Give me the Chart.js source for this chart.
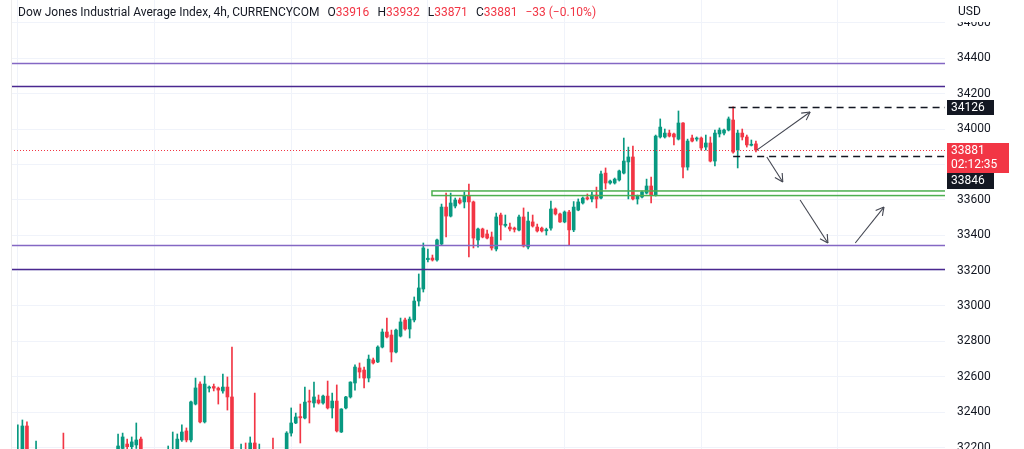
<!DOCTYPE html>
<html>
<head>
<meta charset="utf-8">
<script src="https://cdn.jsdelivr.net/npm/chart.js@4.4.1/dist/chart.umd.min.js"></script>
<style>
  html, body { margin: 0; padding: 0; background: #fff; overflow: hidden; width: 1024px; height: 449px; }
  #wrap { position: absolute; left: 0; top: -20px; width: 1024px; height: 489px; }
  #legend { position: absolute; left: 18px; top: 5px; font: 12px Roboto, sans-serif; color: #131722; white-space: nowrap; }
  #legend span.v { color: #f23645; }
  #legend span.k { margin-left: 8px; }
</style>
</head>
<body>
<div id="wrap"><canvas id="chart" width="1024" height="489"></canvas></div>
<div id="legend"></div>
<script>
// 4h candles, one per slot (slot 0 = first bar at the left edge)
const opens = [
  32050, 32090, 32160, 32322, 32140, 32070, 32160, 32080, 32010, 32060,
  32040, 32120, 32090, 31980, 32020, 31930, 31860, 31920, 32000, 31970,
  32050, 32100, 32070, 32140, 32195, 32220, 32205, 32215, 32248, 32140,
  32070, 32110, 32050, 32130, 32160, 32150, 32185, 32243, 32294, 32243,
  32446, 32559, 32345, 32536, 32545, 32536, 32520, 32542, 32486, 32100,
  32150, 32180, 32120, 32226, 32150, 32180, 32100, 32150, 32110, 32160,
  32165, 32282, 32339, 32375, 32367, 32463, 32452, 32469, 32452, 32491,
  32424, 32463, 32288, 32424, 32486, 32565, 32650, 32638, 32593, 32695,
  32684, 32768, 32853, 32836, 32740, 32830, 32921, 32870, 32921, 33028,
  33096, 33262, 33271, 33260, 33350, 33559, 33508, 33565, 33599, 33588,
  33621, 33588, 33373, 33435, 33407, 33390, 33322, 33514, 33455, 33446,
  33440, 33429, 33503, 33333, 33475, 33446, 33440, 33425, 33440, 33548,
  33520, 33475, 33531, 33430, 33542, 33582, 33612, 33605, 33627, 33610,
  33751, 33695, 33695, 33712, 33751, 33814, 33842, 33605, 33616, 33638,
  33678, 33627, 33955, 33955, 33977, 33972, 33943, 34034, 33785, 33949,
  33943, 33949, 33898, 33921, 33819, 33972, 33977, 33994, 34051, 33881,
  33977, 33955, 33908, 33916
];
const highs = [
  32120, 32328, 32356, 32345, 32170, 32237, 32180, 32110, 32090, 32140,
  32150, 32282, 32130, 32050, 32060, 31980, 31950, 32030, 32050, 32080,
  32130, 32150, 32160, 32277, 32282, 32248, 32260, 32339, 32260, 32170,
  32140, 32150, 32160, 32185, 32209, 32288, 32277, 32328, 32311, 32463,
  32593, 32571, 32604, 32548, 32559, 32542, 32616, 32599, 32768, 32180,
  32220, 32226, 32260, 32508, 32220, 32188, 32170, 32254, 32180, 32188,
  32290, 32424, 32395, 32446, 32542, 32525, 32570, 32497, 32497, 32576,
  32508, 32554, 32420, 32490, 32572, 32667, 32678, 32655, 32723, 32706,
  32775, 32870, 32932, 32864, 32870, 32932, 32932, 32938, 33051, 33181,
  33356, 33322, 33288, 33378, 33576, 33638, 33638, 33610, 33610, 33644,
  33689, 33593, 33440, 33440, 33429, 33418, 33525, 33525, 33514, 33469,
  33446, 33514, 33554, 33531, 33514, 33463, 33446, 33440, 33593, 33554,
  33525, 33537, 33540, 33590, 33605, 33616, 33633, 33644, 33672, 33763,
  33780, 33712, 33723, 33768, 33949, 33898, 33904, 33627, 33650, 33717,
  33729, 33966, 34057, 34000, 33994, 33977, 34102, 34036, 33943, 33966,
  33955, 33955, 33966, 33955, 33994, 34006, 34000, 34068, 34126, 33994,
  34000, 33966, 33938, 33932
];
const lows = [
  32000, 32050, 32130, 32110, 32040, 32030, 32060, 31980, 31970, 32020,
  32010, 32070, 31950, 31920, 31900, 31820, 31830, 31890, 31940, 31950,
  32010, 32040, 32030, 32110, 32180, 32170, 32180, 32195, 32110, 32040,
  32030, 32020, 32030, 32090, 32110, 32120, 32160, 32235, 32232, 32232,
  32441, 32339, 32339, 32514, 32520, 32446, 32508, 32412, 32060, 32030,
  32110, 32080, 32100, 32110, 32090, 32060, 32060, 32070, 32070, 32120,
  32140, 32265, 32335, 32226, 32362, 32339, 32429, 32446, 32446, 32418,
  32367, 32288, 32285, 32418, 32480, 32525, 32593, 32537, 32571, 32672,
  32680, 32763, 32819, 32684, 32735, 32825, 32864, 32819, 32910, 33000,
  33079, 33249, 33254, 33254, 33345, 33390, 33503, 33554, 33576, 33554,
  33277, 33328, 33333, 33385, 33379, 33316, 33311, 33373, 33446, 33424,
  33418, 33424, 33333, 33322, 33446, 33418, 33418, 33401, 33429, 33514,
  33472, 33470, 33345, 33420, 33538, 33576, 33599, 33588, 33554, 33605,
  33661, 33689, 33689, 33706, 33746, 33605, 33599, 33576, 33610, 33633,
  33582, 33621, 33949, 33949, 33955, 33910, 33938, 33723, 33768, 33927,
  33932, 33881, 33881, 33814, 33791, 33955, 33966, 33989, 33864, 33780,
  33938, 33898, 33904, 33871
];
const closes = [
  32090, 32175, 32322, 32140, 32070, 32160, 32080, 32010, 32060, 32040,
  32120, 32090, 31980, 32020, 31930, 31860, 31920, 32000, 31970, 32050,
  32100, 32070, 32140, 32209, 32260, 32205, 32232, 32243, 32140, 32070,
  32110, 32050, 32130, 32160, 32180, 32185, 32248, 32288, 32243, 32458,
  32537, 32345, 32559, 32542, 32536, 32525, 32542, 32486, 32100, 32150,
  32180, 32120, 32226, 32150, 32180, 32100, 32150, 32110, 32160, 32170,
  32282, 32339, 32373, 32368, 32457, 32457, 32486, 32452, 32491, 32424,
  32463, 32294, 32418, 32486, 32570, 32655, 32627, 32593, 32700, 32678,
  32768, 32853, 32825, 32740, 32864, 32910, 32870, 32926, 33028, 33102,
  33328, 33270, 33260, 33373, 33559, 33508, 33582, 33599, 33582, 33621,
  33588, 33384, 33435, 33390, 33384, 33328, 33503, 33458, 33462, 33435,
  33433, 33503, 33339, 33480, 33452, 33424, 33424, 33432, 33548, 33520,
  33475, 33531, 33430, 33559, 33588, 33610, 33605, 33627, 33605, 33746,
  33695, 33706, 33717, 33763, 33819, 33842, 33605, 33621, 33644, 33678,
  33627, 33960, 34011, 33977, 33960, 33955, 34034, 33785, 33932, 33932,
  33949, 33893, 33921, 33819, 33977, 33994, 33994, 34057, 33870, 33977,
  33955, 33910, 33914, 33881
];

// price scale
const yTicks = [32200, 32400, 32600, 32800, 33000, 33200, 33400, 33600, 33800, 34000, 34200, 34400, 34600];
const yMin = 32192, yMax = 34729;
const slotCount = 205;           // bars + empty space on the right
const gridEvery = 30;            // vertical grid every 30 bars

// drawings (slot, price)
const levels = [34373, 34243, 33345, 33209];
const zone = [91.9, 33650, 33624];          // start slot, top, bottom
const marks = [[157, 34126], [158, 33846]];  // dashed lines: start slot, price
const arrows = [
  [163.2, 33881, 174.9, 34096],
  [165.4, 33842, 168.9, 33701],
  [172.7, 33599, 178.8, 33356],
  [184.8, 33356, 191.1, 33559]
];

const UP = '#089981', DOWN = '#f23645';
const labels = Array.from({ length: slotCount }, (_, i) => i);
const last = closes.length - 1;
const colorOf = i => (closes[i] >= opens[i] ? UP : DOWN);

// legend text
const chg = closes[last] - closes[last - 1];
const pct = Math.abs(chg / closes[last - 1] * 100).toFixed(2);
const sgn = chg < 0 ? '\u2212' : '+';
document.getElementById('legend').innerHTML =
  'Dow Jones Industrial Average Index, 4h, CURRENCYCOM' +
  '<span class="k">O</span><span class="v">' + opens[last] + '</span>' +
  '<span class="k">H</span><span class="v">' + highs[last] + '</span>' +
  '<span class="k">L</span><span class="v">' + lows[last] + '</span>' +
  '<span class="k">C</span><span class="v">' + closes[last] + '</span>' +
  '<span class="k v">' + sgn + Math.abs(chg) + ' (' + sgn + pct + '%)</span>';

function line(ctx, x1, y1, x2, y2, color, width, dash) {
  ctx.beginPath();
  ctx.setLineDash(dash || []);
  ctx.strokeStyle = color;
  ctx.lineWidth = width;
  ctx.moveTo(x1, y1);
  ctx.lineTo(x2, y2);
  ctx.stroke();
  ctx.setLineDash([]);
}

function tag(ctx, x, top, w, h, bg, texts) {
  ctx.fillStyle = bg;
  ctx.fillRect(x, top, w, h);
  ctx.fillStyle = '#ffffff';
  ctx.font = '12px Roboto, sans-serif';
  ctx.textAlign = 'left';
  ctx.textBaseline = 'middle';
  texts.forEach((t, i) => ctx.fillText(t, x + 4, top + 8 + i * 14));
}

const overlay = {
  id: 'overlay',
  afterDatasetsDraw(chart) {
    const { ctx, chartArea: a, scales: { x, y } } = chart;
    ctx.save();
    ctx.beginPath();
    ctx.rect(a.left, a.top, a.right - a.left, a.bottom - a.top);
    ctx.clip();

    // last price
    const yl = Math.round(y.getPixelForValue(closes[last])) + 0.5;
    line(ctx, a.left, yl, a.right, yl, DOWN, 1, [1, 2]);

    // horizontal levels
    levels.forEach((p, i) => {
      const yy = Math.round(y.getPixelForValue(p)) + 0.5;
      line(ctx, a.left, yy, a.right, yy, i % 2 ? '#4a2890' : '#8467c4', 1.5);
    });

    // zone box
    const zx = x.getPixelForValue(zone[0]);
    const zt = y.getPixelForValue(zone[1]);
    const zb = y.getPixelForValue(zone[2]);
    ctx.strokeStyle = '#4caf50';
    ctx.lineWidth = 1.5;
    ctx.strokeRect(zx, zt, a.right - zx + 2, zb - zt);

    // dashed marks
    marks.forEach(([s, p]) => {
      const yy = Math.round(y.getPixelForValue(p)) + 0.5;
      line(ctx, x.getPixelForValue(s), yy, a.right, yy, '#131722', 1.4, [7, 5]);
    });

    // arrows
    arrows.forEach(([s1, p1, s2, p2]) => {
      const x1 = x.getPixelForValue(s1), y1 = y.getPixelForValue(p1);
      const x2 = x.getPixelForValue(s2), y2 = y.getPixelForValue(p2);
      line(ctx, x1, y1, x2, y2, '#434651', 1.1);
      const ang = Math.atan2(y2 - y1, x2 - x1);
      [-0.5, 0.5].forEach(d => {
        line(ctx, x2, y2, x2 - 9 * Math.cos(ang + d), y2 - 9 * Math.sin(ang + d), '#434651', 1.1);
      });
    });

    // left border
    line(ctx, a.left + 0.5, a.top, a.left + 0.5, a.bottom, '#ececec', 1);
    ctx.restore();
  },
  afterDraw(chart) {
    const { ctx, chartArea: a, scales: { y } } = chart;
    ctx.save();
    const ax = a.right + 2;
    // currency label over the top of the scale
    ctx.fillStyle = '#ffffff';
    ctx.fillRect(a.right, 0, chart.width - a.right, a.top + 22);
    ctx.fillStyle = '#131722';
    ctx.font = '12px Roboto, sans-serif';
    ctx.textAlign = 'left';
    ctx.textBaseline = 'middle';
    ctx.fillText('USD', a.right + 13, a.top + 12);

    const yHigh = y.getPixelForValue(marks[0][1]);
    tag(ctx, ax, Math.round(yHigh - 7), 47, 15, '#131722', [String(marks[0][1])]);
    const yLast = y.getPixelForValue(closes[last]);
    const redTop = Math.round(yLast - 7);
    tag(ctx, ax, redTop, 62, 30, DOWN, [String(closes[last]), '02:12:35']);
    tag(ctx, ax, redTop + 30, 47, 16, '#131722', [String(marks[1][1])]);
    ctx.restore();
  }
};

new Chart(document.getElementById('chart'), {
  type: 'bar',
  data: {
    labels: labels,
    datasets: [
      {
        label: 'wick',
        data: highs.map((h, i) => [lows[i], h]),
        backgroundColor: ctx => colorOf(ctx.dataIndex),
        barThickness: 1,
        grouped: false
      },
      {
        label: 'body',
        data: opens.map((o, i) => [o, closes[i]]),
        backgroundColor: ctx => colorOf(ctx.dataIndex),
        barThickness: 3,
        minBarLength: 1,
        grouped: false
      }
    ]
  },
  options: {
    responsive: false,
    devicePixelRatio: 1,
    animation: false,
    events: [],
    layout: { padding: { left: 11, right: 0, top: 20, bottom: 20 } },
    plugins: {
      legend: { display: false },
      tooltip: { enabled: false }
    },
    scales: {
      x: {
        offset: true,
        ticks: { display: false },
        grid: {
          offset: false,
          drawTicks: false,
          color: ctx => (ctx.index % gridEvery === 1 ? '#f0f3fa' : 'rgba(0,0,0,0)')
        },
        border: { display: false }
      },
      y: {
        position: 'right',
        min: yMin,
        max: yMax,
        afterFit: s => { s.width = 79; },
        afterBuildTicks: s => { s.ticks = yTicks.map(v => ({ value: v })); },
        ticks: {
          color: '#131722',
          padding: 12,
          font: { size: 12, family: 'Roboto' },
          callback: v => String(v)
        },
        grid: { color: '#f0f3fa', drawTicks: false },
        border: { display: false }
      }
    }
  },
  plugins: [overlay]
});
</script>
</body>
</html>
